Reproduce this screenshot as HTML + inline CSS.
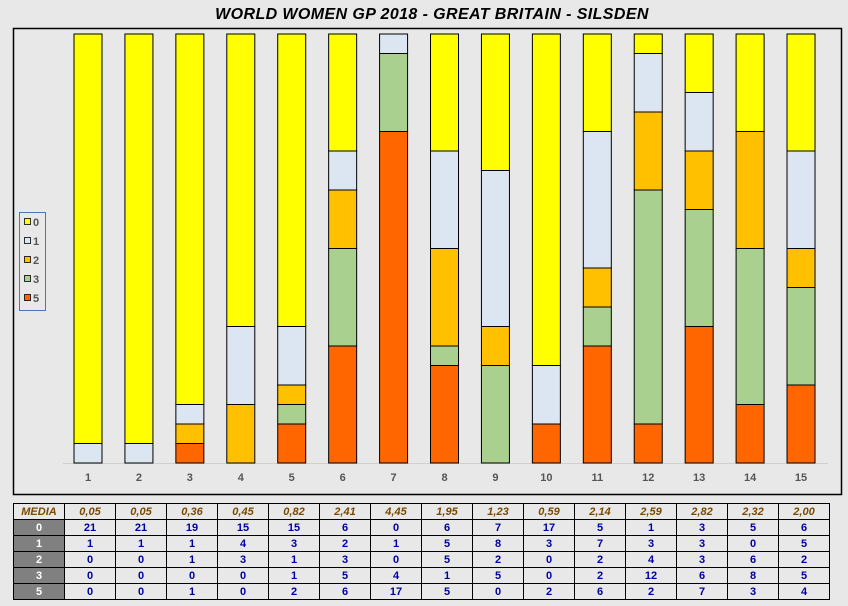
<!DOCTYPE html>
<html><head><meta charset="utf-8"><style>
body{margin:0;background:#e8e8e8;font-family:"Liberation Sans",sans-serif;}
#wrap{position:relative;width:848px;height:606px;overflow:hidden;background:#e8e8e8}
table{position:absolute;left:13px;top:503px;border-collapse:collapse;font-size:11px;font-weight:bold}
td{border:1px solid #000;height:15px;padding:0;text-align:center;width:50px}
td.h{background:#808080;color:#fff}
tr.m td{color:#7a4a00;font-style:italic}
td.v{color:#0000a0}
</style></head><body>
<div id="wrap">
<svg id="svg" width="848" height="500" style="position:absolute;left:0;top:0">
<text x="432" y="19" text-anchor="middle" font-size="16" font-weight="bold" font-style="italic" letter-spacing="0.4" fill="#000">WORLD WOMEN GP 2018 - GREAT BRITAIN - SILSDEN</text>
<rect x="13.5" y="28.5" width="828" height="466" fill="#e8e8e8" stroke="#000" stroke-width="1.5"/>
<line x1="63" y1="463.5" x2="828" y2="463.5" stroke="#d0d0d0"/>
<g id="bars"></g>
<g>
<rect x="19.5" y="212.5" width="26" height="98" fill="#e8e8e8" stroke="#5070c0"/>
<g id="leg"></g>
</g>
</svg>
<table id="tbl"></table>
</div>
<script>
const categories=["1","2","3","4","5","6","7","8","9","10","11","12","13","14","15"];
const media=["0,05","0,05","0,36","0,45","0,82","2,41","4,45","1,95","1,23","0,59","2,14","2,59","2,82","2,32","2,00"];
const s0=[21,21,19,15,15,6,0,6,7,17,5,1,3,5,6];
const s1=[1,1,1,4,3,2,1,5,8,3,7,3,3,0,5];
const s2=[0,0,1,3,1,3,0,5,2,0,2,4,3,6,2];
const s3=[0,0,0,0,1,5,4,1,5,0,2,12,6,8,5];
const s5=[0,0,1,0,2,6,17,5,0,2,6,2,7,3,4];
const seriesNames=["0","1","2","3","5"];
const series=[s0,s1,s2,s3,s5];
const colors=["#ffff00","#dce6f2","#ffc000","#a9d08e","#ff6600"];
const NS="http://www.w3.org/2000/svg";
const top0=34,bot=463,x0=88,step=50.93,bw=28;
const xs=i=>x0+i*step;
const ys=f=>bot-f*(bot-top0);
const g=document.getElementById('bars');
categories.forEach((c,i)=>{
  let tot=0;series.forEach(s=>tot+=s[i]);
  let cum=0;
  for(let k=series.length-1;k>=0;k--){
    const v=series[k][i];
    if(v>0){
      const r=document.createElementNS(NS,'rect');
      
      
      const y1=ys((cum+v)/tot),y2=ys(cum/tot);
      r.setAttribute('x',xs(i)-bw/2);r.setAttribute('y',y1);
      r.setAttribute('width',bw);r.setAttribute('height',y2-y1);
      r.setAttribute('fill',colors[k]);r.setAttribute('stroke','#000');r.setAttribute('stroke-width','1');
      g.appendChild(r);
    }
    cum+=v;
  }
  const t=document.createElementNS(NS,'text');
  
  
  t.setAttribute('x',xs(i));t.setAttribute('y',481);t.setAttribute('text-anchor','middle');
  t.setAttribute('font-size','11');t.setAttribute('font-weight','bold');t.setAttribute('fill','#555');
  t.textContent=c;g.appendChild(t);
});
const lg=document.getElementById('leg');
seriesNames.forEach((n,k)=>{
  const y=223+k*19;
  const r=document.createElementNS(NS,'rect');
  
  
  r.setAttribute('x',24.5);r.setAttribute('y',y-4.5);r.setAttribute('width',6);r.setAttribute('height',6);
  r.setAttribute('fill',colors[k]);r.setAttribute('stroke','#000');r.setAttribute('stroke-width','0.8');
  lg.appendChild(r);
  const t=document.createElementNS(NS,'text');
  
  
  t.setAttribute('x',33);t.setAttribute('y',y+3);t.setAttribute('font-size','11');t.setAttribute('font-weight','bold');t.setAttribute('fill','#555');
  t.textContent=n;lg.appendChild(t);
});
const tbl=document.getElementById('tbl');
let tr=document.createElement('tr');tr.className='m';


let html='<td style="width:49px">MEDIA</td>';media.forEach(m=>html+='<td>'+m+'</td>');
tr.innerHTML=html;tbl.appendChild(tr);
series.forEach((s,k)=>{
  const r=document.createElement('tr');
  
  
  let h='<td class="h">'+seriesNames[k]+'</td>';s.forEach(v=>h+='<td class="v">'+v+'</td>');
  r.innerHTML=h;tbl.appendChild(r);
});
</script>
</body></html>
